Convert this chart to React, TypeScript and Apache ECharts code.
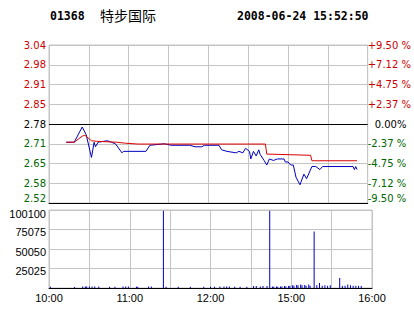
import React, { useEffect, useRef } from "react";
import * as echarts from "echarts";

// ---------- data ----------
const STOCK_CODE = "01368";
const STOCK_NAME = "特步国际";
const TIMESTAMP = "2008-06-24 15:52:50";
const PREV_CLOSE = 2.78;

const PRICE_LABELS = ["3.04", "2.98", "2.91", "2.85", "2.78", "2.71", "2.65", "2.58", "2.52"];
const PCT_LABELS = ["+9.50 %", "+7.12 %", "+4.75 %", "+2.37 %", "0.00%", "-2.37 %", "-4.75 %", "-7.12 %", "-9.50 %"];
const TIME_LABELS = ["10:00", "11:00", "12:00", "15:00", "16:00"];
const VOL_MAX = 100100;
const VOL_STEP = 25025;

const PRICE_TIMES = [
  "10:13", "10:19", "10:25", "10:28", "10:32", "10:34", "10:35", "10:37", "10:44", "10:47",
  "10:50", "10:55", "10:56", "11:13", "11:16", "11:27", "11:32", "11:46", "11:50", "11:55",
  "11:57", "12:08", "12:10", "12:14", "12:21", "12:23", "12:26", "12:28", "14:31", "14:32",
  "14:34", "14:36", "14:38", "14:39", "14:42", "14:44", "14:46", "14:49", "14:52", "14:57",
  "14:58", "15:00", "15:02", "15:04", "15:06", "15:09", "15:12", "15:14", "15:18", "15:21",
  "15:24", "15:26", "15:49", "15:50", "15:51", "15:52",
];
const PRICES = [
  2.72, 2.72, 2.77, 2.745, 2.67, 2.72, 2.705, 2.72, 2.725, 2.72,
  2.715, 2.685, 2.69, 2.69, 2.71, 2.715, 2.71, 2.71, 2.705, 2.705,
  2.71, 2.71, 2.695, 2.69, 2.685, 2.69, 2.685, 2.70, 2.69, 2.665,
  2.69, 2.675, 2.695, 2.68, 2.66, 2.645, 2.665, 2.66, 2.665, 2.665,
  2.655, 2.655, 2.645, 2.645, 2.605, 2.58, 2.615, 2.60, 2.64, 2.64,
  2.63, 2.64, 2.64, 2.63, 2.64, 2.63,
];

const AVG_TIMES = [
  "10:13", "10:19", "10:25", "10:27", "10:32", "10:36", "10:51", "10:57", "11:07", "12:28",
  "14:43", "14:44", "15:17", "15:18", "15:52",
];
const AVG_PRICES = [
  2.72, 2.72, 2.74, 2.743, 2.725, 2.723, 2.72, 2.717, 2.714, 2.714,
  2.714, 2.681, 2.677, 2.659, 2.659,
];

const VOL_TIMES = [
  "10:01", "10:19", "10:25", "10:27", "10:28", "10:30", "10:32", "10:34", "10:37", "10:45",
  "10:49", "10:55", "10:57", "10:59", "11:05", "11:06", "11:14", "11:16", "11:25", "11:27",
  "11:36", "11:45", "11:55", "12:00", "12:03", "12:07", "12:10", "12:12", "12:14", "12:18",
  "12:22", "12:27", "14:32", "14:34", "14:37", "14:39", "14:42", "14:44", "14:46", "14:47",
  "14:49", "14:50", "14:52", "14:53", "14:55", "14:56", "14:58", "14:59", "15:01", "15:02",
  "15:04", "15:05", "15:07", "15:08", "15:10", "15:11", "15:13", "15:14", "15:17", "15:19",
  "15:21", "15:23", "15:25", "15:27", "15:29", "15:36", "15:38", "15:40", "15:42", "15:44",
  "15:46", "15:48", "15:50", "15:52",
];
const VOLUMES = [
  1500, 1200, 2000, 2000, 2000, 2000, 2000, 2000, 2000, 1500,
  1500, 2000, 2000, 2000, 1500, 1500, 2000, 2000, 99000, 1500,
  1500, 1500, 1500, 1500, 1500, 2000, 2000, 2000, 2000, 1500,
  1500, 1500, 2500, 2500, 2000, 2500, 2500, 99000, 2000, 1500,
  2000, 1500, 2000, 2000, 2500, 2000, 2500, 3000, 3500, 3000,
  4000, 3500, 4500, 3500, 4000, 3000, 4500, 3000, 72400, 3500,
  6400, 3000, 3500, 3000, 3500, 12800, 2500, 3000, 4500, 3500,
  3000, 3000, 3000, 2500,
];

// ---------- helpers ----------
const MORNING_END = 12 * 60 + 30;
const AFTERNOON_START = 14 * 60 + 30;
const toIdx = (t: string) => {
  const [h, m] = t.split(":").map(Number);
  const mins = h * 60 + m;
  return mins <= MORNING_END ? mins - 600 : mins - AFTERNOON_START + 150;
};
const toDev = (p: number) => Math.round((p - PREV_CLOSE) * 100000) / 100; // thousandths
const TIME_TICK_IDX = TIME_LABELS.map(toIdx);

const GRID_C = "#c4c4c4";
const RED = "#cc0000";
const GREEN = "#006600";
const FONT = "DejaVu Sans";

export default function App() {
  const ref = useRef<HTMLDivElement>(null);
  useEffect(() => {
    document.body.style.margin = "0";
    const chart = echarts.init(ref.current!, null, { renderer: "svg" });
    const labelIndex = (v: number) => Math.round((260 - Number(v)) / 65);
    const richKey = (v: number) => {
      const n = Number(v);
      if (n <= -260) return "b";
      return n > 0 ? "r" : n < 0 ? "g" : "k";
    };
    const base = { fontFamily: FONT, fontSize: 10 };

    const option: any = {
      animation: false,
      backgroundColor: "#fff",
      graphic: [
        { type: "text", left: 50, top: 10, style: { text: STOCK_CODE, font: `bold 11.5px "DejaVu Sans Mono"`, fill: "#000" } },
        { type: "text", left: 100, top: 8, style: { text: STOCK_NAME, font: `14px "Noto Sans CJK SC"`, fill: "#000" } },
        { type: "text", left: 237, top: 10, style: { text: TIMESTAMP, font: `bold 11.5px "DejaVu Sans Mono"`, fill: "#000" } },
      ],
      grid: [
        { left: 49, right: 42, top: 45, height: 158, show: true, borderColor: GRID_C, borderWidth: 1 },
        { left: 49, right: 42, top: 210, height: 78, show: true, borderColor: GRID_C, borderWidth: 1 },
      ],
      xAxis: [
        {
          type: "value", gridIndex: 0, min: 0, max: 240, interval: 30,
          axisLine: { show: true, onZero: false, lineStyle: { color: "#000", width: 1 } },
          axisTick: { show: false }, axisLabel: { show: false },
          splitLine: { show: true, lineStyle: { color: GRID_C, width: 1 } },
        },
        {
          type: "value", gridIndex: 1, min: 0, max: 240, interval: 30,
          axisLine: { show: true, onZero: false, lineStyle: { color: "#000", width: 1 } },
          axisTick: { show: false },
          axisLabel: {
            margin: 4, color: "#000", fontFamily: "Liberation Sans", fontSize: 11,
            formatter: (v: number) => {
              const i = TIME_TICK_IDX.indexOf(Number(v));
              return i >= 0 ? TIME_LABELS[i] : "";
            },
          },
          splitLine: { show: true, lineStyle: { color: GRID_C, width: 1 } },
        },
      ],
      yAxis: [
        {
          type: "value", gridIndex: 0, min: -260, max: 260, interval: 65, position: "left",
          axisLine: { show: false }, axisTick: { show: false },
          axisLabel: {
            margin: 3, ...base,
            formatter: (v: number) => `{${richKey(v)}|${PRICE_LABELS[labelIndex(v)]}}`,
            rich: {
              r: { color: RED, ...base },
              g: { color: GREEN, ...base },
              b: { color: GREEN, ...base, padding: [0, 0, 10, 0] },
              k: { color: "#000", ...base },
            },
          },
          splitLine: { show: true, lineStyle: { color: GRID_C, width: 1 } },
        },
        {
          type: "value", gridIndex: 0, min: -260, max: 260, interval: 65, position: "right",
          axisLine: { show: false }, axisTick: { show: false },
          axisLabel: {
            margin: 0, ...base,
            formatter: (v: number) => `{${richKey(v)}|${PCT_LABELS[labelIndex(v)]}}`,
            rich: {
              r: { color: RED, ...base },
              g: { color: GREEN, ...base },
              b: { color: GREEN, ...base, padding: [0, 0, 10, 0] },
              k: { color: "#000", ...base, padding: [0, 0, 0, 7] },
            },
          },
          splitLine: { show: false },
        },
        {
          type: "value", gridIndex: 1, min: 0, max: VOL_MAX, interval: VOL_STEP,
          axisLine: { show: false }, axisTick: { show: false },
          axisLabel: {
            margin: 3,
            formatter: (v: number) => {
              const n = Number(v);
              if (n === 0) return "";
              return n >= VOL_MAX ? `{t|${n}}` : `{v|${n}}`;
            },
            rich: {
              v: { color: "#000", fontFamily: "Liberation Sans", fontSize: 11, padding: [5, 0, 0, 0] },
              t: { color: "#000", fontFamily: "Liberation Sans", fontSize: 11, padding: [8, 0, 0, 0] },
            },
          },
          splitLine: { show: true, lineStyle: { color: GRID_C, width: 1 } },
        },
      ],
      series: [
        {
          type: "line", xAxisIndex: 0, yAxisIndex: 0, symbol: "none", silent: true,
          data: PRICE_TIMES.map((t, i) => [toIdx(t), toDev(PRICES[i])]),
          lineStyle: { color: "#0000c0", width: 1 },
          markLine: {
            silent: true, symbol: "none", label: { show: false },
            lineStyle: { color: "#000", type: "solid", width: 1 },
            data: [{ yAxis: 0 }],
          },
          z: 3,
        },
        {
          type: "line", xAxisIndex: 0, yAxisIndex: 0, symbol: "none", silent: true,
          data: AVG_TIMES.map((t, i) => [toIdx(t), toDev(AVG_PRICES[i])]),
          lineStyle: { color: "#dd0000", width: 1 },
          z: 4,
        },
        {
          type: "bar", xAxisIndex: 1, yAxisIndex: 2, silent: true, barWidth: 1,
          data: VOL_TIMES.map((t, i) => [toIdx(t), VOLUMES[i]]),
          itemStyle: { color: "#0000c0" },
        },
      ],
    };
    chart.setOption(option);
    return () => chart.dispose();
  }, []);
  return <div ref={ref} style={{ width: 414, height: 314 }} />;
}
